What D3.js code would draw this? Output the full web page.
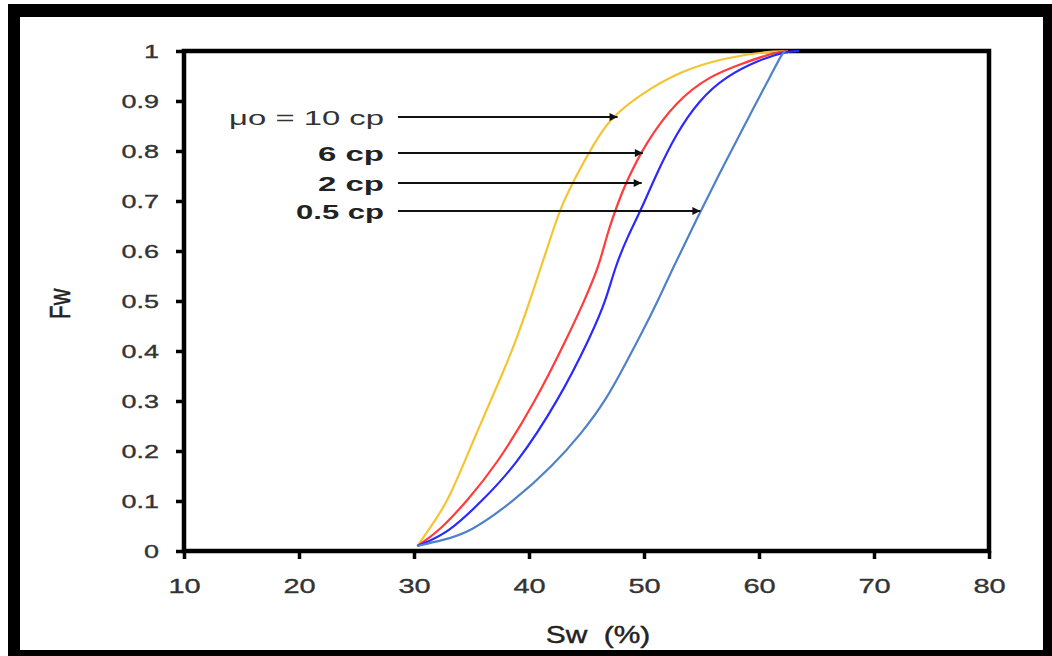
<!DOCTYPE html>
<html>
<head>
<meta charset="utf-8">
<script src="https://cdn.jsdelivr.net/npm/d3@7"></script>
<style>
  html, body { margin: 0; padding: 0; background: #fff; }
  svg { display: block; font-family: "Liberation Sans", Arial, sans-serif; }
</style>
</head>
<body>
<svg id="chart" width="1052" height="656"></svg>
<script>
// fractional flow curves, Sw (%) vs Fw, one per oil viscosity
const swTicks = [10, 20, 30, 40, 50, 60, 70, 80];
const fwTicks = [0, 0.1, 0.2, 0.3, 0.4, 0.5, 0.6, 0.7, 0.8, 0.9, 1];
const fwTickLabels = ['0', '0.1', '0.2', '0.3', '0.4', '0.5', '0.6', '0.7', '0.8', '0.9', '1'];

const sw10cp = [30.3, 31.5, 33.0, 35.4, 38.0, 39.0, 40.0, 41.0, 42.0, 42.8, 44.2, 45.5, 47.0, 49.8, 52.8, 55.7, 58.5, 61.5, 62.5];
const fw10cp = [0.01, 0.05, 0.10, 0.235, 0.37, 0.43, 0.495, 0.565, 0.635, 0.69, 0.755, 0.808, 0.865, 0.915, 0.955, 0.978, 0.992, 1.0, 1.0];

const sw6cp = [30.3, 32.2, 34.6, 37.1, 40.6, 43.5, 44.8, 46.1, 46.8, 47.8, 48.4, 50.1, 52.8, 55.7, 58.5, 61.5, 62.5];
const fw6cp = [0.01, 0.04, 0.10, 0.17, 0.30, 0.435, 0.50, 0.57, 0.635, 0.70, 0.735, 0.815, 0.90, 0.95, 0.975, 0.998, 1.0];

const sw2cp = [30.3, 33.0, 35.9, 38.8, 42.6, 45.5, 46.7, 47.5, 48.6, 49.7, 51.0, 52.8, 54.8, 57.1, 60.0, 62.3, 63.5];
const fw2cp = [0.01, 0.036, 0.10, 0.169, 0.302, 0.436, 0.502, 0.569, 0.63, 0.68, 0.75, 0.835, 0.902, 0.949, 0.982, 0.999, 1.0];

const sw05cp = [30.3, 32.5, 34.8, 38.8, 42.0, 44.6, 46.7, 48.4, 49.9, 51.3, 52.5, 54.5, 57.0, 59.5, 61.0, 62.0, 62.3];
const fw05cp = [0.01, 0.022, 0.036, 0.102, 0.169, 0.236, 0.302, 0.375, 0.44, 0.505, 0.565, 0.66, 0.775, 0.885, 0.95, 0.995, 1.0];

const seriesColors = ['#f5c431', '#ff3b3b', '#2a2aff', '#4f81c9'];

// annotation labels, the Fw level of each arrow and the Sw where it points
const noteLabels = ['\u03bco = 10 cp', '6 cp', '2 cp', '0.5 cp'];
const noteBold = [false, true, true, true];
const noteFw = [0.868, 0.796, 0.736, 0.68];
const noteSwEnd = [47.7, 49.9, 49.8, 54.9];

const series = [
  {sw: sw10cp, fw: fw10cp},
  {sw: sw6cp, fw: fw6cp},
  {sw: sw2cp, fw: fw2cp},
  {sw: sw05cp, fw: fw05cp}
].map((s, i) => ({
  color: seriesColors[i],
  points: s.sw.map((v, j) => [v, s.fw[j]])
}));

const svg = d3.select('#chart');

// outer black frame
svg.append('rect').attr('x', 8).attr('y', 4).attr('width', 1044).attr('height', 652).attr('fill', '#000');
svg.append('rect').attr('x', 20).attr('y', 17).attr('width', 1023).attr('height', 633).attr('fill', '#fff');

const x = d3.scaleLinear().domain([10, 80]).range([184, 989]);
const y = d3.scaleLinear().domain([0, 1]).range([551, 51]);

// the original is stretched sideways, so widen the glyphs around their anchor
function widen(sel, k) {
  sel.each(function () {
    const t = d3.select(this);
    const x0 = +t.attr('x') || 0;
    t.attr('x', x0 / k).attr('transform', `scale(${k},1)`);
  });
}

const xAxis = svg.append('g')
  .attr('transform', `translate(0,${y(0)})`)
  .call(d3.axisBottom(x).tickValues(swTicks).tickSize(8).tickPadding(19).tickSizeOuter(0));

const yAxis = svg.append('g')
  .attr('transform', `translate(${x(10)},0)`)
  .call(d3.axisLeft(y).tickValues(fwTicks).tickFormat((d, i) => fwTickLabels[i]).tickSize(8).tickPadding(17).tickSizeOuter(0));

[xAxis, yAxis].forEach(g => {
  g.select('.domain').remove();
  g.selectAll('.tick line').attr('stroke', '#000').attr('stroke-width', 3.5);
  g.selectAll('.tick text')
    .attr('fill', '#333')
    .attr('stroke', '#333')
    .attr('stroke-width', 0.35)
    .style('font-family', '"Liberation Sans", Arial, sans-serif');
});
xAxis.selectAll('.tick text').style('font-size', '21px');
yAxis.selectAll('.tick text').style('font-size', '19px');
widen(xAxis.selectAll('.tick text'), 1.38);
widen(yAxis.selectAll('.tick text'), 1.42);

// plot frame
svg.append('rect')
  .attr('x', x(10)).attr('y', y(1))
  .attr('width', x(80) - x(10)).attr('height', y(0) - y(1))
  .attr('fill', 'none').attr('stroke', '#000').attr('stroke-width', 4.5);

const line = d3.line()
  .x(d => x(d[0]))
  .y(d => y(d[1]))
  .curve(d3.curveBasis);

svg.append('g')
  .selectAll('path')
  .data(series)
  .join('path')
  .attr('d', d => line(d.points))
  .attr('fill', 'none')
  .attr('stroke', d => d.color)
  .attr('stroke-width', 2.2)
  .attr('stroke-linejoin', 'round');

// arrows with labels
svg.append('defs').append('marker')
  .attr('id', 'head')
  .attr('viewBox', '0 0 10 10')
  .attr('refX', 10).attr('refY', 5)
  .attr('markerWidth', 5).attr('markerHeight', 4)
  .attr('markerUnits', 'strokeWidth')
  .attr('orient', 'auto')
  .append('path').attr('d', 'M0,0L10,5L0,10Z').attr('fill', '#111');

const noteWidths = [155, 66, 66, 88];
const notes = svg.append('g');
noteLabels.forEach((label, i) => {
  const yy = y(noteFw[i]);
  notes.append('line')
    .attr('x1', 398).attr('x2', x(noteSwEnd[i]))
    .attr('y1', yy).attr('y2', yy)
    .attr('stroke', '#111').attr('stroke-width', 2)
    .attr('marker-end', 'url(#head)');
  const t = notes.append('text')
    .attr('text-anchor', 'end')
    .attr('fill', noteBold[i] ? '#222' : '#333')
    .style('font-size', '21px')
    .style('font-weight', noteBold[i] ? 'bold' : 'normal')
    .text(label);
  const k = noteWidths[i] / t.node().getComputedTextLength();
  t.attr('transform', `translate(384,${yy + 8}) scale(${k},1)`);
});

// axis titles
svg.append('text')
  .attr('transform', 'translate(70,304) rotate(-90) scale(1,1.3)')
  .attr('text-anchor', 'middle')
  .attr('fill', '#222')
  .attr('stroke', '#222')
  .attr('stroke-width', 0.4)
  .style('font-size', '23px')
  .text('Fw');

svg.append('text')
  .attr('transform', 'translate(598,643) scale(1.3,1)')
  .attr('text-anchor', 'middle')
  .attr('fill', '#222')
  .attr('stroke', '#222')
  .attr('stroke-width', 0.4)
  .style('font-size', '23px')
  .style('white-space', 'pre')
  .text('Sw  (%)');
</script>
</body>
</html>
